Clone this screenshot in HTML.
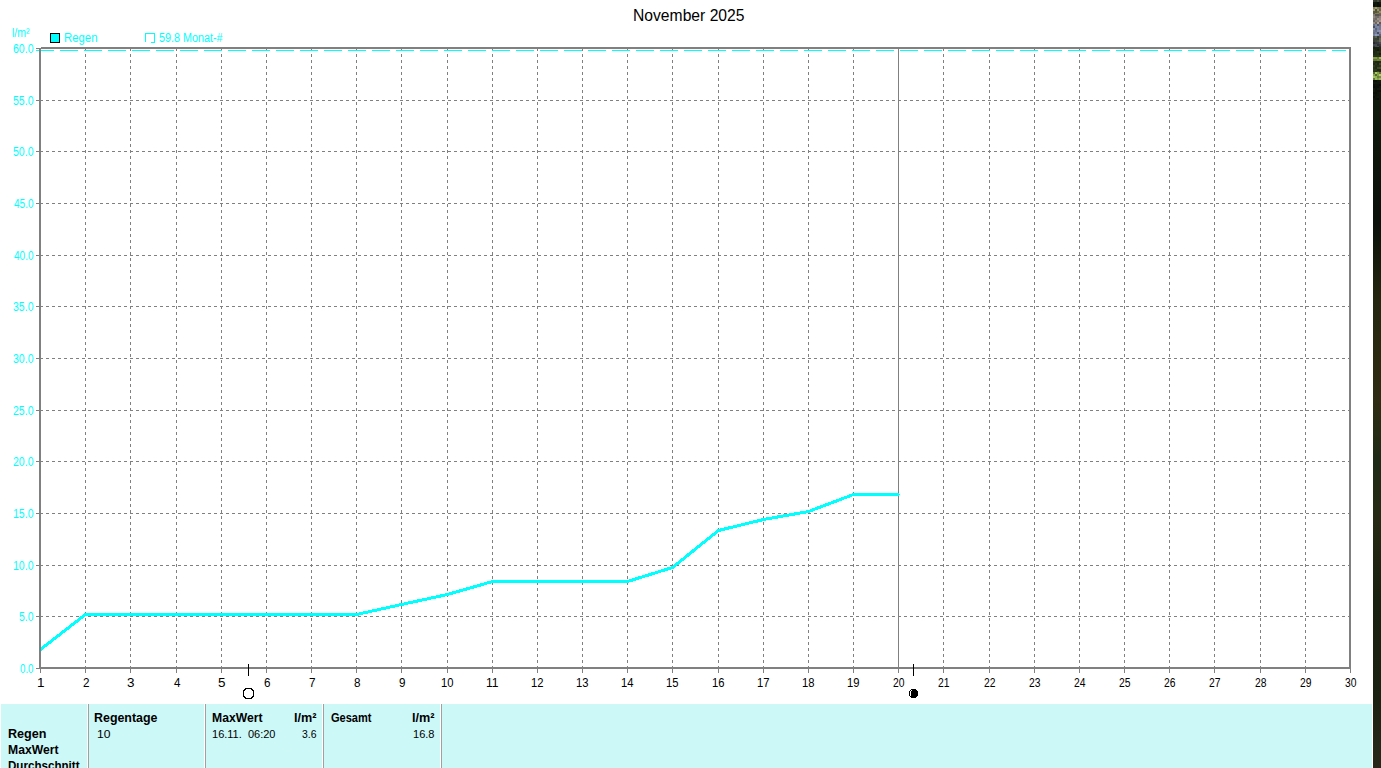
<!DOCTYPE html>
<html><head><meta charset="utf-8"><style>
html,body{margin:0;padding:0;background:#fff;overflow:hidden}
svg{display:block}
text{font-family:"Liberation Sans", sans-serif}
</style></head><body>
<svg width="1381" height="768" viewBox="0 0 1381 768">
<defs><clipPath id="pc"><rect x="41" y="49" width="1308" height="618"/></clipPath><linearGradient id="sg" x1="0" y1="0" x2="0" y2="1"><stop offset="0.000" stop-color="#101a0c"/><stop offset="0.180" stop-color="#0a100a"/><stop offset="0.299" stop-color="#24260f"/><stop offset="0.449" stop-color="#2e2c12"/><stop offset="0.539" stop-color="#1e2a16"/><stop offset="0.629" stop-color="#262a14"/><stop offset="0.749" stop-color="#18200f"/><stop offset="0.898" stop-color="#1c2212"/><stop offset="1.000" stop-color="#28281a"/></linearGradient></defs>
<rect width="1381" height="768" fill="#fff"/>
<g shape-rendering="crispEdges">
<line x1="40" y1="616.5" x2="1349" y2="616.5" stroke="#808080" stroke-width="1" stroke-dasharray="3 3"/>
<line x1="40" y1="565.5" x2="1349" y2="565.5" stroke="#808080" stroke-width="1" stroke-dasharray="3 3"/>
<line x1="40" y1="513.5" x2="1349" y2="513.5" stroke="#808080" stroke-width="1" stroke-dasharray="3 3"/>
<line x1="40" y1="461.5" x2="1349" y2="461.5" stroke="#808080" stroke-width="1" stroke-dasharray="3 3"/>
<line x1="40" y1="410.5" x2="1349" y2="410.5" stroke="#808080" stroke-width="1" stroke-dasharray="3 3"/>
<line x1="40" y1="358.5" x2="1349" y2="358.5" stroke="#808080" stroke-width="1" stroke-dasharray="3 3"/>
<line x1="40" y1="306.5" x2="1349" y2="306.5" stroke="#808080" stroke-width="1" stroke-dasharray="3 3"/>
<line x1="40" y1="255.5" x2="1349" y2="255.5" stroke="#808080" stroke-width="1" stroke-dasharray="3 3"/>
<line x1="40" y1="203.5" x2="1349" y2="203.5" stroke="#808080" stroke-width="1" stroke-dasharray="3 3"/>
<line x1="40" y1="151.5" x2="1349" y2="151.5" stroke="#808080" stroke-width="1" stroke-dasharray="3 3"/>
<line x1="40" y1="100.5" x2="1349" y2="100.5" stroke="#808080" stroke-width="1" stroke-dasharray="3 3"/>
<rect x="36" y="668" width="4" height="1" fill="#808080"/>
<rect x="36" y="616" width="4" height="1" fill="#808080"/>
<rect x="36" y="565" width="4" height="1" fill="#808080"/>
<rect x="36" y="513" width="4" height="1" fill="#808080"/>
<rect x="36" y="461" width="4" height="1" fill="#808080"/>
<rect x="36" y="410" width="4" height="1" fill="#808080"/>
<rect x="36" y="358" width="4" height="1" fill="#808080"/>
<rect x="36" y="306" width="4" height="1" fill="#808080"/>
<rect x="36" y="255" width="4" height="1" fill="#808080"/>
<rect x="36" y="203" width="4" height="1" fill="#808080"/>
<rect x="36" y="151" width="4" height="1" fill="#808080"/>
<rect x="36" y="100" width="4" height="1" fill="#808080"/>
<rect x="36" y="48" width="4" height="1" fill="#808080"/>
<line x1="85.5" y1="48" x2="85.5" y2="667" stroke="#808080" stroke-width="1" stroke-dasharray="3 3"/>
<line x1="130.5" y1="48" x2="130.5" y2="667" stroke="#808080" stroke-width="1" stroke-dasharray="3 3"/>
<line x1="176.5" y1="48" x2="176.5" y2="667" stroke="#808080" stroke-width="1" stroke-dasharray="3 3"/>
<line x1="221.5" y1="48" x2="221.5" y2="667" stroke="#808080" stroke-width="1" stroke-dasharray="3 3"/>
<line x1="266.5" y1="48" x2="266.5" y2="667" stroke="#808080" stroke-width="1" stroke-dasharray="3 3"/>
<line x1="311.5" y1="48" x2="311.5" y2="667" stroke="#808080" stroke-width="1" stroke-dasharray="3 3"/>
<line x1="356.5" y1="48" x2="356.5" y2="667" stroke="#808080" stroke-width="1" stroke-dasharray="3 3"/>
<line x1="401.5" y1="48" x2="401.5" y2="667" stroke="#808080" stroke-width="1" stroke-dasharray="3 3"/>
<line x1="447.5" y1="48" x2="447.5" y2="667" stroke="#808080" stroke-width="1" stroke-dasharray="3 3"/>
<line x1="492.5" y1="48" x2="492.5" y2="667" stroke="#808080" stroke-width="1" stroke-dasharray="3 3"/>
<line x1="537.5" y1="48" x2="537.5" y2="667" stroke="#808080" stroke-width="1" stroke-dasharray="3 3"/>
<line x1="582.5" y1="48" x2="582.5" y2="667" stroke="#808080" stroke-width="1" stroke-dasharray="3 3"/>
<line x1="627.5" y1="48" x2="627.5" y2="667" stroke="#808080" stroke-width="1" stroke-dasharray="3 3"/>
<line x1="672.5" y1="48" x2="672.5" y2="667" stroke="#808080" stroke-width="1" stroke-dasharray="3 3"/>
<line x1="718.5" y1="48" x2="718.5" y2="667" stroke="#808080" stroke-width="1" stroke-dasharray="3 3"/>
<line x1="763.5" y1="48" x2="763.5" y2="667" stroke="#808080" stroke-width="1" stroke-dasharray="3 3"/>
<line x1="808.5" y1="48" x2="808.5" y2="667" stroke="#808080" stroke-width="1" stroke-dasharray="3 3"/>
<line x1="853.5" y1="48" x2="853.5" y2="667" stroke="#808080" stroke-width="1" stroke-dasharray="3 3"/>
<line x1="898.5" y1="48" x2="898.5" y2="667" stroke="#808080" stroke-width="1" stroke-dasharray="3 3"/>
<line x1="943.5" y1="48" x2="943.5" y2="667" stroke="#808080" stroke-width="1" stroke-dasharray="3 3"/>
<line x1="989.5" y1="48" x2="989.5" y2="667" stroke="#808080" stroke-width="1" stroke-dasharray="3 3"/>
<line x1="1034.5" y1="48" x2="1034.5" y2="667" stroke="#808080" stroke-width="1" stroke-dasharray="3 3"/>
<line x1="1079.5" y1="48" x2="1079.5" y2="667" stroke="#808080" stroke-width="1" stroke-dasharray="3 3"/>
<line x1="1124.5" y1="48" x2="1124.5" y2="667" stroke="#808080" stroke-width="1" stroke-dasharray="3 3"/>
<line x1="1169.5" y1="48" x2="1169.5" y2="667" stroke="#808080" stroke-width="1" stroke-dasharray="3 3"/>
<line x1="1214.5" y1="48" x2="1214.5" y2="667" stroke="#808080" stroke-width="1" stroke-dasharray="3 3"/>
<line x1="1260.5" y1="48" x2="1260.5" y2="667" stroke="#808080" stroke-width="1" stroke-dasharray="3 3"/>
<line x1="1305.5" y1="48" x2="1305.5" y2="667" stroke="#808080" stroke-width="1" stroke-dasharray="3 3"/>
<rect x="40" y="669" width="1" height="4" fill="#808080"/>
<rect x="85" y="669" width="1" height="4" fill="#808080"/>
<rect x="130" y="669" width="1" height="4" fill="#808080"/>
<rect x="176" y="669" width="1" height="4" fill="#808080"/>
<rect x="221" y="669" width="1" height="4" fill="#808080"/>
<rect x="266" y="669" width="1" height="4" fill="#808080"/>
<rect x="311" y="669" width="1" height="4" fill="#808080"/>
<rect x="356" y="669" width="1" height="4" fill="#808080"/>
<rect x="401" y="669" width="1" height="4" fill="#808080"/>
<rect x="447" y="669" width="1" height="4" fill="#808080"/>
<rect x="492" y="669" width="1" height="4" fill="#808080"/>
<rect x="537" y="669" width="1" height="4" fill="#808080"/>
<rect x="582" y="669" width="1" height="4" fill="#808080"/>
<rect x="627" y="669" width="1" height="4" fill="#808080"/>
<rect x="672" y="669" width="1" height="4" fill="#808080"/>
<rect x="718" y="669" width="1" height="4" fill="#808080"/>
<rect x="763" y="669" width="1" height="4" fill="#808080"/>
<rect x="808" y="669" width="1" height="4" fill="#808080"/>
<rect x="853" y="669" width="1" height="4" fill="#808080"/>
<rect x="898" y="669" width="1" height="4" fill="#808080"/>
<rect x="943" y="669" width="1" height="4" fill="#808080"/>
<rect x="989" y="669" width="1" height="4" fill="#808080"/>
<rect x="1034" y="669" width="1" height="4" fill="#808080"/>
<rect x="1079" y="669" width="1" height="4" fill="#808080"/>
<rect x="1124" y="669" width="1" height="4" fill="#808080"/>
<rect x="1169" y="669" width="1" height="4" fill="#808080"/>
<rect x="1214" y="669" width="1" height="4" fill="#808080"/>
<rect x="1260" y="669" width="1" height="4" fill="#808080"/>
<rect x="1305" y="669" width="1" height="4" fill="#808080"/>
<rect x="1350" y="669" width="1" height="4" fill="#808080"/>
<line x1="36" y1="50.5" x2="1346" y2="50.5" stroke="#00ffff" stroke-width="1" stroke-dasharray="18 6"/>
<rect x="41" y="47" width="1310" height="2" fill="#808080"/>
<rect x="39" y="667" width="1312" height="2" fill="#808080"/>
<rect x="39" y="48" width="2" height="621" fill="#808080"/>
<rect x="1349" y="47" width="2" height="622" fill="#808080"/>
<rect x="898" y="48" width="1" height="625" fill="#808080"/>
<rect x="50.5" y="33.5" width="9" height="9" fill="#00ffff" stroke="#000" stroke-width="1"/>
<rect x="145" y="33" width="10" height="1" fill="#00ffff"/><rect x="145" y="33" width="1" height="9" fill="#00ffff"/><rect x="154" y="33" width="1" height="10" fill="#00ffff"/><rect x="151" y="42" width="4" height="1" fill="#00ffff"/>
<rect x="248" y="664" width="1" height="12" fill="#000"/>
<rect x="913" y="664" width="1" height="12" fill="#000"/>
<rect x="1" y="704" width="1371" height="64" fill="#ccf8f8"/>
<rect x="87" y="704" width="1" height="64" fill="#fff"/><rect x="88" y="704" width="1" height="64" fill="#a0a0a0"/>
<rect x="204" y="704" width="1" height="64" fill="#fff"/><rect x="205" y="704" width="1" height="64" fill="#a0a0a0"/>
<rect x="322" y="704" width="1" height="64" fill="#fff"/><rect x="323" y="704" width="1" height="64" fill="#a0a0a0"/>
<rect x="440" y="704" width="1" height="64" fill="#fff"/><rect x="441" y="704" width="1" height="64" fill="#a0a0a0"/>
<rect x="245" y="688" width="7" height="1" fill="#000"/>
<rect x="244" y="689" width="2" height="1" fill="#000"/>
<rect x="251" y="689" width="2" height="1" fill="#000"/>
<rect x="243" y="690" width="2" height="1" fill="#000"/>
<rect x="252" y="690" width="2" height="1" fill="#000"/>
<rect x="243" y="691" width="1" height="5" fill="#000"/>
<rect x="253" y="691" width="1" height="5" fill="#000"/>
<rect x="243" y="696" width="2" height="1" fill="#000"/>
<rect x="252" y="696" width="2" height="1" fill="#000"/>
<rect x="244" y="697" width="2" height="1" fill="#000"/>
<rect x="251" y="697" width="2" height="1" fill="#000"/>
<rect x="245" y="698" width="7" height="1" fill="#000"/>
<rect x="911" y="689" width="5" height="1" fill="#000"/>
<rect x="910" y="690" width="7" height="1" fill="#000"/>
<rect x="909" y="691" width="9" height="5" fill="#000"/>
<rect x="910" y="696" width="7" height="1" fill="#000"/>
<rect x="911" y="697" width="5" height="1" fill="#000"/>
<rect x="910" y="691" width="1" height="5" fill="#fff"/>
<rect x="911" y="690" width="1" height="1" fill="#fff"/>
</g>
<polyline points="40.5,649.5 85.5,614.5 130.5,614.5 176.5,614.5 221.5,614.5 266.5,614.5 311.5,614.5 356.5,614.5 401.5,604.5 447.5,594.5 492.5,581.5 537.5,581.5 582.5,581.5 627.5,581.5 672.5,567.5 718.5,530.5 763.5,519.5 808.5,511.5 853.5,494.5 898.5,494.5" fill="none" stroke="#00ffff" stroke-width="3" stroke-linejoin="round" stroke-linecap="butt" shape-rendering="crispEdges" clip-path="url(#pc)"/>
<rect x="899" y="494" width="1" height="1" fill="#00ffff"/>
<rect x="1373" y="0" width="2" height="2" fill="rgb(56, 63, 48)"/>
<rect x="1375" y="0" width="2" height="2" fill="rgb(48, 54, 41)"/>
<rect x="1377" y="0" width="2" height="2" fill="rgb(71, 79, 61)"/>
<rect x="1379" y="0" width="2" height="2" fill="rgb(45, 50, 38)"/>
<rect x="1373" y="2" width="2" height="2" fill="rgb(18, 26, 13)"/>
<rect x="1375" y="2" width="2" height="2" fill="rgb(16, 23, 11)"/>
<rect x="1377" y="2" width="2" height="2" fill="rgb(12, 17, 8)"/>
<rect x="1379" y="2" width="2" height="2" fill="rgb(18, 26, 13)"/>
<rect x="1373" y="4" width="2" height="2" fill="rgb(12, 17, 8)"/>
<rect x="1375" y="4" width="2" height="2" fill="rgb(17, 24, 12)"/>
<rect x="1377" y="4" width="2" height="2" fill="rgb(12, 18, 9)"/>
<rect x="1379" y="4" width="2" height="2" fill="rgb(13, 18, 9)"/>
<rect x="1373" y="6" width="2" height="1" fill="rgb(17, 24, 12)"/>
<rect x="1375" y="6" width="2" height="1" fill="rgb(22, 31, 15)"/>
<rect x="1377" y="6" width="2" height="1" fill="rgb(13, 19, 9)"/>
<rect x="1379" y="6" width="2" height="1" fill="rgb(14, 20, 10)"/>
<rect x="1373" y="7" width="2" height="2" fill="rgb(131, 129, 90)"/>
<rect x="1375" y="7" width="2" height="2" fill="rgb(158, 155, 109)"/>
<rect x="1377" y="7" width="2" height="2" fill="rgb(126, 124, 87)"/>
<rect x="1379" y="7" width="2" height="2" fill="rgb(111, 109, 77)"/>
<rect x="1373" y="9" width="2" height="2" fill="rgb(160, 158, 111)"/>
<rect x="1375" y="9" width="2" height="2" fill="rgb(81, 80, 56)"/>
<rect x="1377" y="9" width="2" height="2" fill="rgb(150, 148, 104)"/>
<rect x="1379" y="9" width="2" height="2" fill="rgb(102, 100, 70)"/>
<rect x="1373" y="11" width="2" height="2" fill="rgb(90, 88, 62)"/>
<rect x="1375" y="11" width="2" height="2" fill="rgb(87, 86, 60)"/>
<rect x="1377" y="11" width="2" height="2" fill="rgb(104, 102, 72)"/>
<rect x="1379" y="11" width="2" height="2" fill="rgb(146, 144, 101)"/>
<rect x="1373" y="13" width="2" height="1" fill="rgb(93, 91, 64)"/>
<rect x="1375" y="13" width="2" height="1" fill="rgb(127, 125, 88)"/>
<rect x="1377" y="13" width="2" height="1" fill="rgb(131, 129, 91)"/>
<rect x="1379" y="13" width="2" height="1" fill="rgb(109, 107, 75)"/>
<rect x="1373" y="14" width="2" height="2" fill="rgb(133, 126, 119)"/>
<rect x="1375" y="14" width="2" height="2" fill="rgb(89, 84, 80)"/>
<rect x="1377" y="14" width="2" height="2" fill="rgb(89, 84, 79)"/>
<rect x="1379" y="14" width="2" height="2" fill="rgb(102, 96, 91)"/>
<rect x="1373" y="16" width="2" height="2" fill="rgb(145, 137, 130)"/>
<rect x="1375" y="16" width="2" height="2" fill="rgb(122, 115, 109)"/>
<rect x="1377" y="16" width="2" height="2" fill="rgb(112, 106, 100)"/>
<rect x="1379" y="16" width="2" height="2" fill="rgb(137, 129, 122)"/>
<rect x="1373" y="18" width="2" height="2" fill="rgb(125, 118, 111)"/>
<rect x="1375" y="18" width="2" height="2" fill="rgb(111, 104, 99)"/>
<rect x="1377" y="18" width="2" height="2" fill="rgb(156, 147, 139)"/>
<rect x="1379" y="18" width="2" height="2" fill="rgb(147, 139, 131)"/>
<rect x="1373" y="20" width="2" height="2" fill="rgb(106, 100, 94)"/>
<rect x="1375" y="20" width="2" height="2" fill="rgb(136, 128, 121)"/>
<rect x="1377" y="20" width="2" height="2" fill="rgb(131, 124, 117)"/>
<rect x="1379" y="20" width="2" height="2" fill="rgb(163, 154, 146)"/>
<rect x="1373" y="22" width="2" height="2" fill="rgb(150, 141, 134)"/>
<rect x="1375" y="22" width="2" height="2" fill="rgb(110, 103, 98)"/>
<rect x="1377" y="22" width="2" height="2" fill="rgb(173, 163, 154)"/>
<rect x="1379" y="22" width="2" height="2" fill="rgb(94, 89, 84)"/>
<rect x="1373" y="24" width="2" height="2" fill="rgb(100, 108, 130)"/>
<rect x="1375" y="24" width="2" height="2" fill="rgb(125, 136, 163)"/>
<rect x="1377" y="24" width="2" height="2" fill="rgb(80, 87, 104)"/>
<rect x="1379" y="24" width="2" height="2" fill="rgb(105, 114, 137)"/>
<rect x="1373" y="26" width="2" height="2" fill="rgb(71, 78, 93)"/>
<rect x="1375" y="26" width="2" height="2" fill="rgb(118, 129, 155)"/>
<rect x="1377" y="26" width="2" height="2" fill="rgb(126, 137, 164)"/>
<rect x="1379" y="26" width="2" height="2" fill="rgb(111, 121, 145)"/>
<rect x="1373" y="28" width="2" height="2" fill="rgb(134, 146, 175)"/>
<rect x="1375" y="28" width="2" height="2" fill="rgb(92, 100, 120)"/>
<rect x="1377" y="28" width="2" height="2" fill="rgb(120, 131, 157)"/>
<rect x="1379" y="28" width="2" height="2" fill="rgb(113, 123, 147)"/>
<rect x="1373" y="30" width="2" height="2" fill="rgb(112, 122, 146)"/>
<rect x="1375" y="30" width="2" height="2" fill="rgb(103, 112, 134)"/>
<rect x="1377" y="30" width="2" height="2" fill="rgb(131, 143, 171)"/>
<rect x="1379" y="30" width="2" height="2" fill="rgb(139, 151, 182)"/>
<rect x="1373" y="32" width="2" height="2" fill="rgb(104, 113, 136)"/>
<rect x="1375" y="32" width="2" height="2" fill="rgb(118, 128, 154)"/>
<rect x="1377" y="32" width="2" height="2" fill="rgb(73, 79, 95)"/>
<rect x="1379" y="32" width="2" height="2" fill="rgb(121, 131, 158)"/>
<rect x="1373" y="34" width="2" height="2" fill="rgb(117, 127, 153)"/>
<rect x="1375" y="34" width="2" height="2" fill="rgb(143, 155, 186)"/>
<rect x="1377" y="34" width="2" height="2" fill="rgb(130, 141, 170)"/>
<rect x="1379" y="34" width="2" height="2" fill="rgb(90, 98, 117)"/>
<rect x="1373" y="36" width="2" height="2" fill="rgb(72, 80, 68)"/>
<rect x="1375" y="36" width="2" height="2" fill="rgb(87, 98, 82)"/>
<rect x="1377" y="36" width="2" height="2" fill="rgb(52, 58, 49)"/>
<rect x="1379" y="36" width="2" height="2" fill="rgb(76, 85, 72)"/>
<rect x="1373" y="38" width="2" height="2" fill="rgb(60, 67, 56)"/>
<rect x="1375" y="38" width="2" height="2" fill="rgb(57, 64, 54)"/>
<rect x="1377" y="38" width="2" height="2" fill="rgb(54, 60, 51)"/>
<rect x="1379" y="38" width="2" height="2" fill="rgb(93, 104, 87)"/>
<rect x="1373" y="40" width="2" height="2" fill="rgb(58, 64, 54)"/>
<rect x="1375" y="40" width="2" height="2" fill="rgb(64, 72, 60)"/>
<rect x="1377" y="40" width="2" height="2" fill="rgb(72, 81, 68)"/>
<rect x="1379" y="40" width="2" height="2" fill="rgb(99, 110, 93)"/>
<rect x="1373" y="42" width="2" height="2" fill="rgb(39, 41, 45)"/>
<rect x="1375" y="42" width="2" height="2" fill="rgb(53, 57, 62)"/>
<rect x="1377" y="42" width="2" height="2" fill="rgb(57, 61, 66)"/>
<rect x="1379" y="42" width="2" height="2" fill="rgb(70, 75, 82)"/>
<rect x="1373" y="44" width="2" height="2" fill="rgb(67, 72, 79)"/>
<rect x="1375" y="44" width="2" height="2" fill="rgb(69, 74, 81)"/>
<rect x="1377" y="44" width="2" height="2" fill="rgb(46, 49, 54)"/>
<rect x="1379" y="44" width="2" height="2" fill="rgb(52, 55, 60)"/>
<rect x="1373" y="46" width="2" height="1" fill="rgb(49, 53, 58)"/>
<rect x="1375" y="46" width="2" height="1" fill="rgb(70, 75, 82)"/>
<rect x="1377" y="46" width="2" height="1" fill="rgb(73, 78, 85)"/>
<rect x="1379" y="46" width="2" height="1" fill="rgb(41, 44, 48)"/>
<rect x="1373" y="47" width="2" height="2" fill="rgb(24, 32, 14)"/>
<rect x="1375" y="47" width="2" height="2" fill="rgb(25, 34, 15)"/>
<rect x="1377" y="47" width="2" height="2" fill="rgb(25, 34, 15)"/>
<rect x="1379" y="47" width="2" height="2" fill="rgb(31, 42, 18)"/>
<rect x="1373" y="49" width="2" height="2" fill="rgb(33, 45, 19)"/>
<rect x="1375" y="49" width="2" height="2" fill="rgb(26, 35, 15)"/>
<rect x="1377" y="49" width="2" height="2" fill="rgb(20, 27, 12)"/>
<rect x="1379" y="49" width="2" height="2" fill="rgb(29, 40, 17)"/>
<rect x="1373" y="51" width="2" height="2" fill="rgb(28, 38, 16)"/>
<rect x="1375" y="51" width="2" height="2" fill="rgb(32, 44, 19)"/>
<rect x="1377" y="51" width="2" height="2" fill="rgb(41, 56, 24)"/>
<rect x="1379" y="51" width="2" height="2" fill="rgb(35, 48, 20)"/>
<rect x="1373" y="53" width="2" height="2" fill="rgb(31, 43, 18)"/>
<rect x="1375" y="53" width="2" height="2" fill="rgb(34, 46, 20)"/>
<rect x="1377" y="53" width="2" height="2" fill="rgb(35, 47, 20)"/>
<rect x="1379" y="53" width="2" height="2" fill="rgb(21, 29, 12)"/>
<rect x="1373" y="55" width="2" height="2" fill="rgb(40, 54, 23)"/>
<rect x="1375" y="55" width="2" height="2" fill="rgb(37, 50, 22)"/>
<rect x="1377" y="55" width="2" height="2" fill="rgb(39, 53, 23)"/>
<rect x="1379" y="55" width="2" height="2" fill="rgb(38, 51, 22)"/>
<rect x="1373" y="57" width="2" height="2" fill="rgb(128, 153, 68)"/>
<rect x="1375" y="57" width="2" height="2" fill="rgb(128, 154, 68)"/>
<rect x="1377" y="57" width="2" height="2" fill="rgb(100, 120, 53)"/>
<rect x="1379" y="57" width="2" height="2" fill="rgb(151, 182, 80)"/>
<rect x="1373" y="59" width="2" height="2" fill="rgb(96, 115, 51)"/>
<rect x="1375" y="59" width="2" height="2" fill="rgb(96, 115, 51)"/>
<rect x="1377" y="59" width="2" height="2" fill="rgb(110, 132, 58)"/>
<rect x="1379" y="59" width="2" height="2" fill="rgb(105, 126, 56)"/>
<rect x="1373" y="61" width="2" height="2" fill="rgb(41, 50, 24)"/>
<rect x="1375" y="61" width="2" height="2" fill="rgb(31, 39, 19)"/>
<rect x="1377" y="61" width="2" height="2" fill="rgb(30, 37, 18)"/>
<rect x="1379" y="61" width="2" height="2" fill="rgb(34, 43, 20)"/>
<rect x="1373" y="63" width="2" height="2" fill="rgb(33, 41, 19)"/>
<rect x="1375" y="63" width="2" height="2" fill="rgb(41, 51, 25)"/>
<rect x="1377" y="63" width="2" height="2" fill="rgb(30, 38, 18)"/>
<rect x="1379" y="63" width="2" height="2" fill="rgb(58, 72, 35)"/>
<rect x="1373" y="65" width="2" height="2" fill="rgb(49, 61, 29)"/>
<rect x="1375" y="65" width="2" height="2" fill="rgb(34, 43, 20)"/>
<rect x="1377" y="65" width="2" height="2" fill="rgb(38, 47, 22)"/>
<rect x="1379" y="65" width="2" height="2" fill="rgb(41, 51, 24)"/>
<rect x="1373" y="67" width="2" height="2" fill="rgb(41, 51, 25)"/>
<rect x="1375" y="67" width="2" height="2" fill="rgb(33, 42, 20)"/>
<rect x="1377" y="67" width="2" height="2" fill="rgb(57, 71, 34)"/>
<rect x="1379" y="67" width="2" height="2" fill="rgb(62, 77, 37)"/>
<rect x="1373" y="69" width="2" height="2" fill="rgb(45, 55, 27)"/>
<rect x="1375" y="69" width="2" height="2" fill="rgb(45, 56, 27)"/>
<rect x="1377" y="69" width="2" height="2" fill="rgb(32, 40, 19)"/>
<rect x="1379" y="69" width="2" height="2" fill="rgb(33, 41, 19)"/>
<rect x="1373" y="71" width="2" height="1" fill="rgb(41, 51, 24)"/>
<rect x="1375" y="71" width="2" height="1" fill="rgb(38, 47, 23)"/>
<rect x="1377" y="71" width="2" height="1" fill="rgb(56, 70, 34)"/>
<rect x="1379" y="71" width="2" height="1" fill="rgb(35, 43, 21)"/>
<rect x="1373" y="72" width="2" height="2" fill="rgb(86, 104, 49)"/>
<rect x="1375" y="72" width="2" height="2" fill="rgb(170, 207, 97)"/>
<rect x="1377" y="72" width="2" height="2" fill="rgb(132, 160, 75)"/>
<rect x="1379" y="72" width="2" height="2" fill="rgb(97, 118, 55)"/>
<rect x="1373" y="74" width="2" height="2" fill="rgb(133, 162, 76)"/>
<rect x="1375" y="74" width="2" height="2" fill="rgb(86, 104, 49)"/>
<rect x="1377" y="74" width="2" height="2" fill="rgb(132, 160, 75)"/>
<rect x="1379" y="74" width="2" height="2" fill="rgb(173, 210, 98)"/>
<rect x="1373" y="76" width="2" height="2" fill="rgb(162, 197, 92)"/>
<rect x="1375" y="76" width="2" height="2" fill="rgb(147, 178, 84)"/>
<rect x="1377" y="76" width="2" height="2" fill="rgb(107, 130, 61)"/>
<rect x="1379" y="76" width="2" height="2" fill="rgb(117, 142, 67)"/>
<rect x="1373" y="78" width="2" height="2" fill="rgb(99, 120, 56)"/>
<rect x="1375" y="78" width="2" height="2" fill="rgb(154, 187, 88)"/>
<rect x="1377" y="78" width="2" height="2" fill="rgb(132, 160, 75)"/>
<rect x="1379" y="78" width="2" height="2" fill="rgb(154, 188, 88)"/>
<rect x="1373" y="80" width="2" height="2" fill="rgb(11, 16, 8)"/>
<rect x="1375" y="80" width="2" height="2" fill="rgb(10, 14, 7)"/>
<rect x="1377" y="80" width="2" height="2" fill="rgb(15, 22, 11)"/>
<rect x="1379" y="80" width="2" height="2" fill="rgb(17, 24, 12)"/>
<rect x="1373" y="82" width="2" height="2" fill="rgb(16, 23, 11)"/>
<rect x="1375" y="82" width="2" height="2" fill="rgb(15, 22, 11)"/>
<rect x="1377" y="82" width="2" height="2" fill="rgb(15, 22, 11)"/>
<rect x="1379" y="82" width="2" height="2" fill="rgb(15, 21, 10)"/>
<rect x="1373" y="84" width="2" height="2" fill="rgb(10, 14, 7)"/>
<rect x="1375" y="84" width="2" height="2" fill="rgb(13, 18, 9)"/>
<rect x="1377" y="84" width="2" height="2" fill="rgb(11, 16, 8)"/>
<rect x="1379" y="84" width="2" height="2" fill="rgb(8, 12, 6)"/>
<rect x="1373" y="86" width="2" height="2" fill="rgb(8, 12, 6)"/>
<rect x="1375" y="86" width="2" height="2" fill="rgb(10, 15, 7)"/>
<rect x="1377" y="86" width="2" height="2" fill="rgb(10, 15, 7)"/>
<rect x="1379" y="86" width="2" height="2" fill="rgb(14, 21, 10)"/>
<rect x="1373" y="88" width="2" height="2" fill="rgb(17, 24, 12)"/>
<rect x="1375" y="88" width="2" height="2" fill="rgb(12, 17, 8)"/>
<rect x="1377" y="88" width="2" height="2" fill="rgb(16, 24, 12)"/>
<rect x="1379" y="88" width="2" height="2" fill="rgb(17, 24, 12)"/>
<rect x="1373" y="90" width="2" height="2" fill="rgb(17, 24, 12)"/>
<rect x="1375" y="90" width="2" height="2" fill="rgb(11, 16, 8)"/>
<rect x="1377" y="90" width="2" height="2" fill="rgb(10, 14, 7)"/>
<rect x="1379" y="90" width="2" height="2" fill="rgb(10, 14, 7)"/>
<rect x="1373" y="92" width="2" height="2" fill="rgb(10, 14, 7)"/>
<rect x="1375" y="92" width="2" height="2" fill="rgb(10, 14, 7)"/>
<rect x="1377" y="92" width="2" height="2" fill="rgb(14, 20, 10)"/>
<rect x="1379" y="92" width="2" height="2" fill="rgb(16, 23, 11)"/>
<rect x="1373" y="94" width="2" height="2" fill="rgb(16, 22, 11)"/>
<rect x="1375" y="94" width="2" height="2" fill="rgb(12, 18, 9)"/>
<rect x="1377" y="94" width="2" height="2" fill="rgb(14, 20, 10)"/>
<rect x="1379" y="94" width="2" height="2" fill="rgb(15, 22, 11)"/>
<rect x="1373" y="96" width="2" height="2" fill="rgb(9, 13, 6)"/>
<rect x="1375" y="96" width="2" height="2" fill="rgb(14, 20, 10)"/>
<rect x="1377" y="96" width="2" height="2" fill="rgb(16, 23, 11)"/>
<rect x="1379" y="96" width="2" height="2" fill="rgb(15, 22, 11)"/>
<rect x="1373" y="98" width="2" height="2" fill="rgb(15, 21, 10)"/>
<rect x="1375" y="98" width="2" height="2" fill="rgb(12, 18, 9)"/>
<rect x="1377" y="98" width="2" height="2" fill="rgb(10, 14, 7)"/>
<rect x="1379" y="98" width="2" height="2" fill="rgb(15, 22, 11)"/>
<rect x="1373" y="100" width="8" height="668" fill="url(#sg)"/>
<text x="20.00" y="673" fill="#00ffff" font-size="12" textLength="13.50" lengthAdjust="spacingAndGlyphs">0.0</text>
<text x="19.00" y="621" fill="#00ffff" font-size="12" textLength="14.50" lengthAdjust="spacingAndGlyphs">5.0</text>
<text x="13.00" y="570" fill="#00ffff" font-size="12" textLength="20.50" lengthAdjust="spacingAndGlyphs">10.0</text>
<text x="13.00" y="518" fill="#00ffff" font-size="12" textLength="20.50" lengthAdjust="spacingAndGlyphs">15.0</text>
<text x="13.00" y="466" fill="#00ffff" font-size="12" textLength="20.50" lengthAdjust="spacingAndGlyphs">20.0</text>
<text x="13.00" y="415" fill="#00ffff" font-size="12" textLength="20.50" lengthAdjust="spacingAndGlyphs">25.0</text>
<text x="13.00" y="363" fill="#00ffff" font-size="12" textLength="20.50" lengthAdjust="spacingAndGlyphs">30.0</text>
<text x="13.00" y="311" fill="#00ffff" font-size="12" textLength="20.50" lengthAdjust="spacingAndGlyphs">35.0</text>
<text x="14.00" y="260" fill="#00ffff" font-size="12" textLength="19.50" lengthAdjust="spacingAndGlyphs">40.0</text>
<text x="14.00" y="208" fill="#00ffff" font-size="12" textLength="19.50" lengthAdjust="spacingAndGlyphs">45.0</text>
<text x="13.00" y="156" fill="#00ffff" font-size="12" textLength="20.50" lengthAdjust="spacingAndGlyphs">50.0</text>
<text x="13.00" y="105" fill="#00ffff" font-size="12" textLength="20.50" lengthAdjust="spacingAndGlyphs">55.0</text>
<text x="13.00" y="53" fill="#00ffff" font-size="12" textLength="20.50" lengthAdjust="spacingAndGlyphs">60.0</text>
<text x="37.00" y="687" fill="#000" font-size="12" textLength="7.50" lengthAdjust="spacingAndGlyphs">1</text>
<text x="83.00" y="687" fill="#000" font-size="12" textLength="6.50" lengthAdjust="spacingAndGlyphs">2</text>
<text x="127.00" y="687" fill="#000" font-size="12" textLength="7.50" lengthAdjust="spacingAndGlyphs">3</text>
<text x="174.00" y="687" fill="#000" font-size="12" textLength="6.50" lengthAdjust="spacingAndGlyphs">4</text>
<text x="218.00" y="687" fill="#000" font-size="12" textLength="7.50" lengthAdjust="spacingAndGlyphs">5</text>
<text x="264.00" y="687" fill="#000" font-size="12" textLength="6.50" lengthAdjust="spacingAndGlyphs">6</text>
<text x="309.00" y="687" fill="#000" font-size="12" textLength="6.50" lengthAdjust="spacingAndGlyphs">7</text>
<text x="354.00" y="687" fill="#000" font-size="12" textLength="6.50" lengthAdjust="spacingAndGlyphs">8</text>
<text x="399.00" y="687" fill="#000" font-size="12" textLength="6.50" lengthAdjust="spacingAndGlyphs">9</text>
<text x="441.00" y="687" fill="#000" font-size="12" textLength="12.50" lengthAdjust="spacingAndGlyphs">10</text>
<text x="486.00" y="687" fill="#000" font-size="12" textLength="12.50" lengthAdjust="spacingAndGlyphs">11</text>
<text x="531.00" y="687" fill="#000" font-size="12" textLength="12.50" lengthAdjust="spacingAndGlyphs">12</text>
<text x="576.00" y="687" fill="#000" font-size="12" textLength="12.50" lengthAdjust="spacingAndGlyphs">13</text>
<text x="621.00" y="687" fill="#000" font-size="12" textLength="12.50" lengthAdjust="spacingAndGlyphs">14</text>
<text x="666.00" y="687" fill="#000" font-size="12" textLength="12.50" lengthAdjust="spacingAndGlyphs">15</text>
<text x="712.00" y="687" fill="#000" font-size="12" textLength="12.50" lengthAdjust="spacingAndGlyphs">16</text>
<text x="757.00" y="687" fill="#000" font-size="12" textLength="12.50" lengthAdjust="spacingAndGlyphs">17</text>
<text x="802.00" y="687" fill="#000" font-size="12" textLength="12.50" lengthAdjust="spacingAndGlyphs">18</text>
<text x="847.00" y="687" fill="#000" font-size="12" textLength="12.50" lengthAdjust="spacingAndGlyphs">19</text>
<text x="893.00" y="687" fill="#000" font-size="12" textLength="11.50" lengthAdjust="spacingAndGlyphs">20</text>
<text x="938.00" y="687" fill="#000" font-size="12" textLength="11.50" lengthAdjust="spacingAndGlyphs">21</text>
<text x="984.00" y="687" fill="#000" font-size="12" textLength="11.50" lengthAdjust="spacingAndGlyphs">22</text>
<text x="1029.00" y="687" fill="#000" font-size="12" textLength="11.50" lengthAdjust="spacingAndGlyphs">23</text>
<text x="1074.00" y="687" fill="#000" font-size="12" textLength="11.50" lengthAdjust="spacingAndGlyphs">24</text>
<text x="1119.00" y="687" fill="#000" font-size="12" textLength="11.50" lengthAdjust="spacingAndGlyphs">25</text>
<text x="1164.00" y="687" fill="#000" font-size="12" textLength="11.50" lengthAdjust="spacingAndGlyphs">26</text>
<text x="1209.00" y="687" fill="#000" font-size="12" textLength="11.50" lengthAdjust="spacingAndGlyphs">27</text>
<text x="1255.00" y="687" fill="#000" font-size="12" textLength="11.50" lengthAdjust="spacingAndGlyphs">28</text>
<text x="1300.00" y="687" fill="#000" font-size="12" textLength="11.50" lengthAdjust="spacingAndGlyphs">29</text>
<text x="1345.00" y="687" fill="#000" font-size="12" textLength="11.50" lengthAdjust="spacingAndGlyphs">30</text>
<text x="633.00" y="21" fill="#000" font-size="16.5" textLength="111.50" lengthAdjust="spacingAndGlyphs">November 2025</text>
<text x="12.00" y="37" fill="#00ffff" font-size="12" textLength="17.50" lengthAdjust="spacingAndGlyphs">l/m²</text>
<text x="64.00" y="42" fill="#00ffff" font-size="12" textLength="33.50" lengthAdjust="spacingAndGlyphs">Regen</text>
<text x="159.00" y="42" fill="#00ffff" font-size="12" textLength="63.50" lengthAdjust="spacingAndGlyphs">59.8 Monat-#</text>
<text x="94.00" y="722" fill="#000" font-size="12" font-weight="bold" textLength="63.50" lengthAdjust="spacingAndGlyphs">Regentage</text>
<text x="97.00" y="738" fill="#000" font-size="11" textLength="13.50" lengthAdjust="spacingAndGlyphs">10</text>
<text x="212.00" y="722" fill="#000" font-size="12" font-weight="bold" textLength="50.50" lengthAdjust="spacingAndGlyphs">MaxWert</text>
<text x="294.00" y="722" fill="#000" font-size="12" font-weight="bold" textLength="22.50" lengthAdjust="spacingAndGlyphs">l/m²</text>
<text x="212.00" y="738" fill="#000" font-size="11" textLength="63.50" lengthAdjust="spacingAndGlyphs">16.11.&#160; 06:20</text>
<text x="302.00" y="738" fill="#000" font-size="11" textLength="14.50" lengthAdjust="spacingAndGlyphs">3.6</text>
<text x="331.00" y="722" fill="#000" font-size="12" font-weight="bold" textLength="40.50" lengthAdjust="spacingAndGlyphs">Gesamt</text>
<text x="412.00" y="722" fill="#000" font-size="12" font-weight="bold" textLength="22.50" lengthAdjust="spacingAndGlyphs">l/m²</text>
<text x="413.00" y="738" fill="#000" font-size="11" textLength="21.50" lengthAdjust="spacingAndGlyphs">16.8</text>
<text x="8.00" y="738" fill="#000" font-size="12" font-weight="bold" textLength="38.50" lengthAdjust="spacingAndGlyphs">Regen</text>
<text x="8.00" y="754" fill="#000" font-size="12" font-weight="bold" textLength="50.50" lengthAdjust="spacingAndGlyphs">MaxWert</text>
<text x="8.00" y="770" fill="#000" font-size="12" font-weight="bold" textLength="71.50" lengthAdjust="spacingAndGlyphs">Durchschnitt</text>
</svg>
</body></html>
